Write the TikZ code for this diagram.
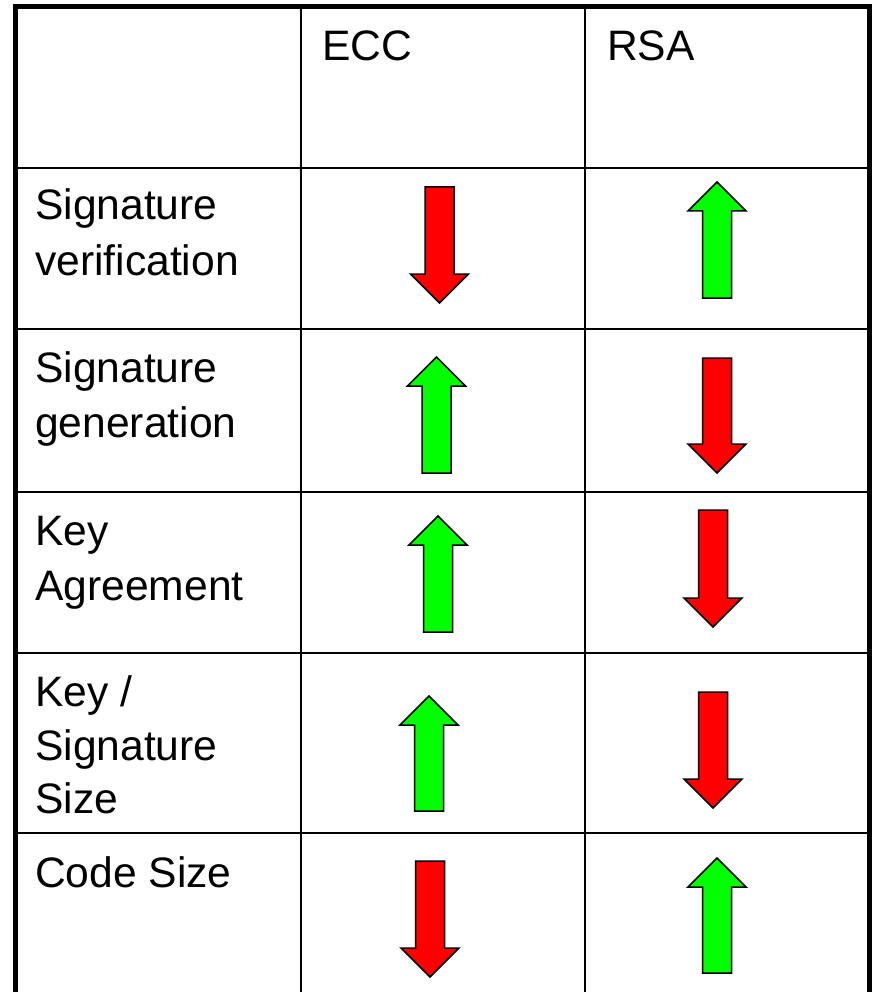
\documentclass[tikz,border=0pt]{standalone}
\usepackage{fontspec}
\setmainfont{Liberation Sans}
\definecolor{upgreen}{RGB}{0,255,0}
\definecolor{downred}{RGB}{255,0,0}
\newcommand\ArrUp[3]{% cx, tip y, bottom y
  \filldraw[arrowline, fill=upgreen] (#1,#2) -- (#1+29,#2+29) -- (#1+14.5,#2+29) -- (#1+14.5,#3) -- (#1-14.5,#3) -- (#1-14.5,#2+29) -- (#1-29,#2+29) -- cycle;}
\newcommand\ArrDown[3]{% cx, top y, tip y
  \filldraw[arrowline, fill=downred] (#1,#3) -- (#1+29,#3-29) -- (#1+14.5,#3-29) -- (#1+14.5,#2) -- (#1-14.5,#2) -- (#1-14.5,#3-29) -- (#1-29,#3-29) -- cycle;}
\begin{document}
\begin{tikzpicture}[x=1pt,y=-1pt,
  gridline/.style={line width=2.7pt, black},
  borderline/.style={line width=5pt, black},
  arrowline/.style={line width=1.5pt, black, line join=miter},
  lbl/.style={anchor=base west, inner sep=0pt, font=\fontsize{42.6}{54}\selectfont}]
\useasboundingbox (0,0) rectangle (871,992);
\fill[white] (0,0) rectangle (871,992);
% grid
\foreach \yy in {168,329,492,653,833} \draw[gridline] (15.5,\yy) -- (869,\yy);
\foreach \xx in {301,585} \draw[gridline] (\xx,6.5) -- (\xx,992);
% border
\draw[borderline] (15.5,992) -- (15.5,6.5) -- (869,6.5) -- (869,992);
% header
\node[lbl] (ecc) at (322,61) {ECC};
\node[lbl] (rsa) at (607,61) {RSA};
% row labels
\node[lbl] (r1a) at (35,220) {Signature};
\node[lbl] (r1b) at (35,275) {verification};
\node[lbl] (r2a) at (35,382) {Signature};
\node[lbl] (r2b) at (35,437) {generation};
\node[lbl] (r3a) at (35,545) {Key};
\node[lbl] (r3b) at (35,600) {Agreement};
\node[lbl] (r4a) at (35,706) {Key /};
\node[lbl] (r4b) at (35,760) {Signature};
\node[lbl] (r4c) at (35,813) {Size};
\node[lbl] (r5a) at (35,887) {Code Size};
% arrows
\ArrDown{439.5}{187}{303}
\ArrUp{717}{182}{298}
\ArrUp{436.5}{357}{473}
\ArrDown{717}{358}{473}
\ArrUp{438}{516}{632}
\ArrDown{713}{510}{627}
\ArrUp{429}{696}{811}
\ArrDown{713}{692}{808}
\ArrDown{430}{861}{977}
\ArrUp{717}{858}{973}
\end{tikzpicture}
\end{document}
